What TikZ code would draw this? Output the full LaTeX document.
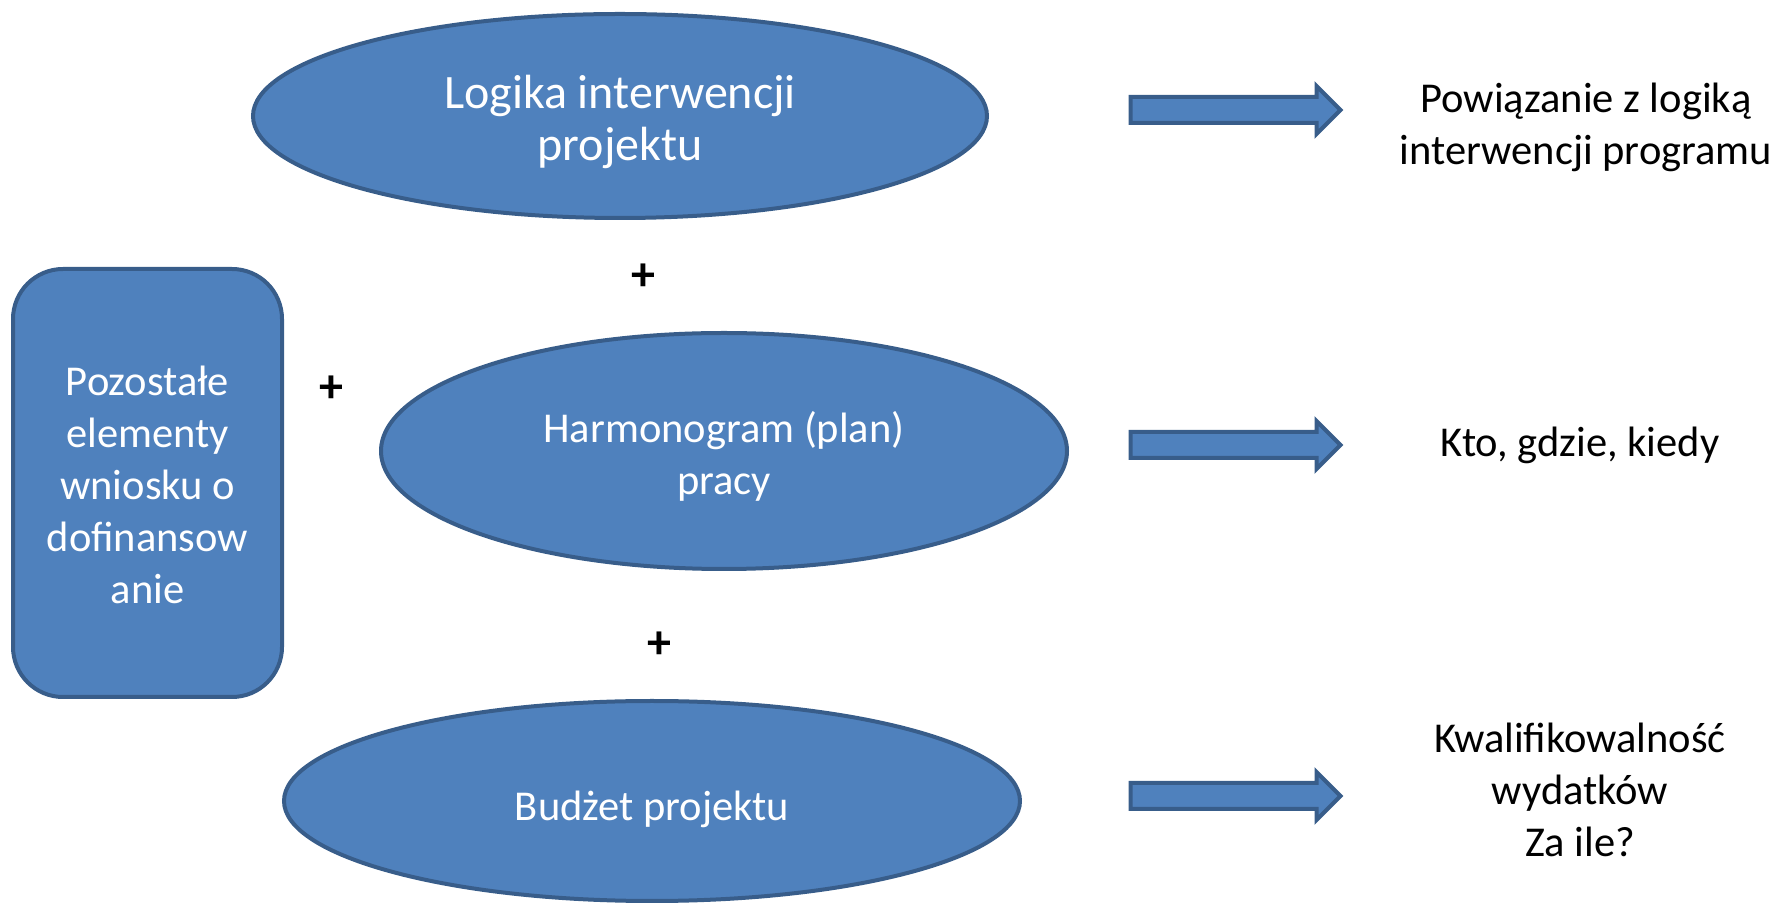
\documentclass[tikz,border=0pt]{standalone}
\usepackage{fontspec}
\setmainfont{Carlito}
\usepackage{tikz}
\usetikzlibrary{shapes.geometric,shapes.arrows}
\definecolor{boxblue}{HTML}{4F81BD}
\definecolor{edgeblue}{HTML}{385D8A}
\tikzset{
  part/.style={ellipse,draw=edgeblue,fill=boxblue,line width=4pt,inner sep=0pt},
  intext/.style={text=white,align=center,inner sep=0pt,font=\fontsize{42.5}{52}\selectfont},
  restbox/.style={rectangle,rounded corners=50pt,draw=edgeblue,fill=boxblue,
    line width=4pt,inner sep=0pt},
  blockarrow/.style={single arrow,draw=edgeblue,fill=boxblue,line width=4pt,
    inner sep=11pt,single arrow head extend=11pt,minimum height=210pt},
  note/.style={align=center,font=\fontsize{42.5}{52}\selectfont},
  plus/.style={font=\fontsize{48}{50}\selectfont\bfseries}
}

\begin{document}
\begin{tikzpicture}[x=1pt,y=1pt]
\useasboundingbox (0,0) rectangle (1789,905);
% three parts of the project
\node (logika) at (620,789) [part,minimum width=734pt,minimum height=204pt]{};
\node (harmono) at (724,454) [part,minimum width=686pt,minimum height=236pt]{};
\node (budzet) at (652,104) [part,minimum width=736pt,minimum height=200pt]{};
\node (reszta) at (147.5,422) [restbox,minimum width=269pt,minimum height=428pt]{};
\node at ([yshift=-6pt]logika.center) [intext,font=\fontsize{48}{52}\selectfont]{Logika interwencji\\projektu};
\node at ([yshift=-5pt]harmono.center) [intext]{Harmonogram (plan)\\pracy};
\node at ([yshift=-8pt]budzet.center) [intext]{Budżet projektu};
\node at ([yshift=-2pt]reszta.center) [intext]{Pozostałe\\elementy\\wniosku o\\dofinansow\\anie};
\node at (643,628) [plus]{+};
\node at (331,516) [plus]{+};
\node at (659,260) [plus]{+};
% arrows and what they give
\node (a1) at (1229,795) [blockarrow]{};
\node (a2) at (1229,460) [blockarrow]{};
\node (a3) at (1229,109) [blockarrow]{};
\node (w1) at (1586,778) [note]{Powiązanie z logiką\\interwencji programu};
\node (w2) at (1580,460) [note]{Kto, gdzie, kiedy};
\node (w3) at (1580,115) [note]{Kwalifikowalność\\wydatków\\Za ile?};
\end{tikzpicture}
\end{document}
